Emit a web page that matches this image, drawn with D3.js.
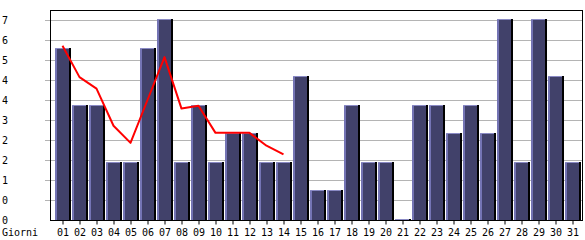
<!DOCTYPE html>
<html>
<head>
<meta charset="utf-8">
<script src="https://cdn.jsdelivr.net/npm/d3@7"></script>
<style>
  body { margin: 0; background: #fff; }
  text { font-family: 'DejaVu Sans Mono', monospace; font-size: 10px; fill: #000; }
</style>
</head>
<body>
<div id="chart"></div>
<script>
/* global d3 */

// data
const days = ['01', '02', '03', '04', '05', '06', '07', '08', '09', '10', '11', '12', '13', '14', '15', '16',
  '17', '18', '19', '20', '21', '22', '23', '24', '25', '26', '27', '28', '29', '30', '31'];
const values = [6, 4, 4, 2, 2, 6, 7, 2, 4, 2, 3, 3, 2, 2, 5, 1, 1, 4, 2, 2, 0, 4, 4, 3, 4, 3, 7, 2, 7, 5, 2];
const trendDays = ['01', '02', '03', '04', '05', '06', '07', '08', '09', '10', '11', '12', '13', '14'];
const trend = [6.1, 5.0, 4.6, 3.3, 2.7, 4.2, 5.7, 3.9, 4.0, 3.05, 3.05, 3.05, 2.6, 2.3];
const yTicks = [0, 0.7, 1.4, 2.1, 2.8, 3.5, 4.2, 4.9, 5.6, 6.3, 7];
const yTickLabels = ['0', '0', '1', '2', '2', '3', '4', '4', '5', '6', '7'];
const xTitle = 'Giorni';

// dimensions
const WIDTH = 585;
const HEIGHT = 240;
const LEFT = 50;
const RIGHT = 582;
const TOP = 10;
const BOTTOM = 220;

const scaleX = d3.scaleBand().domain(days).range([54.5, 581.5]).padding(0);
const scaleY = d3.scaleLinear().domain([0, 7]).range([BOTTOM, 20]);

const $svg = d3.select('#chart').append('svg')
  .attr('width', WIDTH)
  .attr('height', HEIGHT);

// grid lines
$svg.append('g')
  .selectAll('line')
  .data(yTicks.slice(1))
  .join('line')
  .attr('x1', LEFT - 5)
  .attr('x2', RIGHT)
  .attr('y1', d => Math.round(scaleY(d)) + 0.5)
  .attr('y2', d => Math.round(scaleY(d)) + 0.5)
  .attr('stroke', '#b4b4b4')
  .attr('stroke-width', 1);

// y labels
$svg.append('g')
  .selectAll('text')
  .data(yTicks)
  .join('text')
  .attr('x', 2)
  .attr('y', d => Math.round(scaleY(d)) + 4)
  .text((d, i) => yTickLabels[i]);

// bars
const bw = scaleX.bandwidth();
const $bars = $svg.append('g')
  .selectAll('g')
  .data(values)
  .join('g')
  .attr('transform', (d, i) => `translate(${Math.round(scaleX(days[i]))},0)`);

const barTop = d => Math.round(scaleY(d)) - 1;

$bars.append('rect')
  .attr('x', 0)
  .attr('y', barTop)
  .attr('width', bw - 1)
  .attr('height', d => BOTTOM - barTop(d))
  .attr('fill', '#000');

$bars.append('rect')
  .attr('x', 0)
  .attr('y', barTop)
  .attr('width', bw - 3)
  .attr('height', d => BOTTOM - barTop(d))
  .attr('fill', '#41416a');

$bars.append('rect')
  .attr('x', 0)
  .attr('y', barTop)
  .attr('width', 2)
  .attr('height', d => BOTTOM - barTop(d))
  .attr('fill', '#7474b4');

$bars.append('rect')
  .attr('x', 0)
  .attr('y', barTop)
  .attr('width', bw - 3)
  .attr('height', 1)
  .attr('fill', '#8a8ac4');

// trend line
const line = d3.line()
  .x((d, i) => scaleX(trendDays[i]) + bw / 2 - 0.5)
  .y(d => scaleY(d));

$svg.append('path')
  .datum(trend)
  .attr('d', line)
  .attr('fill', 'none')
  .attr('stroke', '#f00')
  .attr('stroke-width', 2)
  .attr('stroke-linejoin', 'round');

// frame
$svg.append('rect')
  .attr('x', LEFT + 0.5)
  .attr('y', TOP + 0.5)
  .attr('width', RIGHT - LEFT)
  .attr('height', BOTTOM - TOP)
  .attr('fill', 'none')
  .attr('stroke', '#000')
  .attr('stroke-width', 1);

// x axis
const $xAxis = $svg.append('g')
  .attr('transform', `translate(0,${BOTTOM + 0.5})`)
  .call(d3.axisBottom(scaleX).tickSize(4).tickSizeOuter(0).tickPadding(4));

$xAxis.select('.domain').remove();
$xAxis.selectAll('line').attr('stroke', '#000');
$xAxis.selectAll('text')
  .attr('font-family', 'DejaVu Sans Mono, monospace')
  .attr('font-size', 10)
  .attr('fill', '#000');

$svg.append('text')
  .attr('x', 2)
  .attr('y', 236)
  .text(xTitle);
</script>
</body>
</html>
